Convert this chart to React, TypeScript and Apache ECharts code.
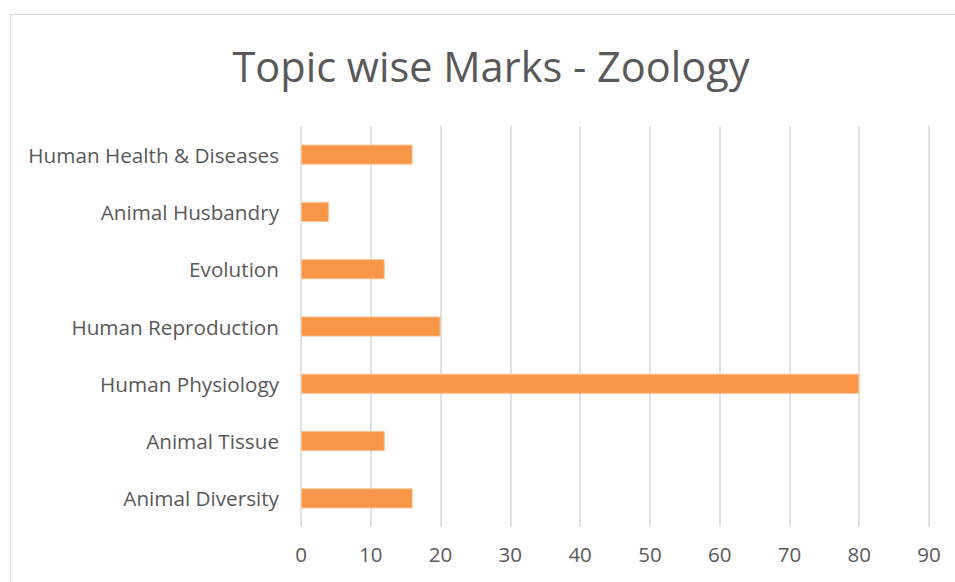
import React, { useEffect, useRef } from "react";
import * as echarts from "echarts";

const titleText = "Topic wise Marks - Zoology";
const categories = [
  "Animal Diversity",
  "Animal Tissue",
  "Human Physiology",
  "Human Reproduction",
  "Evolution",
  "Animal Husbandry",
  "Human Health & Diseases",
];
const marks = [16, 12, 80, 20, 12, 4, 16];
const axisMin = 0;
const axisMax = 90;
const axisStep = 10;

export default function App() {
  const ref = useRef<HTMLDivElement>(null);
  useEffect(() => {
    document.body.style.margin = "0";
    const chart = echarts.init(ref.current!, null, { renderer: "svg" });
    const font = "'Open Sans', Lato, sans-serif";
    chart.setOption({
      animation: false,
      backgroundColor: "#ffffff",
      textStyle: { fontFamily: font },
      title: {
        text: titleText,
        left: 486,
        textAlign: "center",
        top: 40,
        textStyle: { fontSize: 41.5, fontWeight: "normal", color: "#595959", fontFamily: font },
      },
      graphic: [
        {
          type: "rect",
          shape: { x: 10.5, y: 14.5, width: 1000, height: 700 },
          style: { fill: "none", stroke: "#d9d9d9", lineWidth: 1 },
          silent: true,
        },
      ],
      grid: { left: 301, right: 26, top: 126, bottom: 55 },
      xAxis: {
        type: "value",
        min: axisMin,
        max: axisMax,
        interval: axisStep,
        axisLine: { show: false },
        axisTick: { show: false },
        splitLine: { show: true, lineStyle: { color: "#d9d9d9", width: 1.5 } },
        axisLabel: { color: "#595959", fontSize: 20.5, margin: 16, fontFamily: font },
      },
      yAxis: {
        type: "category",
        data: categories,
        axisLine: { show: false },
        axisTick: { show: false },
        axisLabel: { color: "#595959", fontSize: 20.7, margin: 22, fontFamily: font },
      },
      series: [
        {
          type: "bar",
          data: marks,
          barWidth: "35%",
          itemStyle: { color: "#F79646", borderColor: "#FAC090", borderWidth: 1 },
        },
      ],
    });
    return () => chart.dispose();
  }, []);
  return <div ref={ref} style={{ width: 955, height: 582 }} />;
}
